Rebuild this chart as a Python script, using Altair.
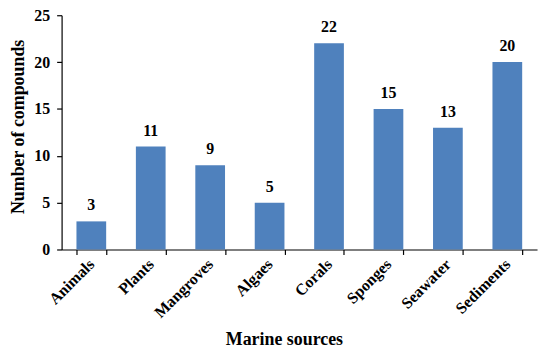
import altair as alt
import pandas as pd

categories = ["Animals", "Plants", "Mangroves", "Algaes", "Corals", "Sponges", "Seawater", "Sediments"]
values = [3, 11, 9, 5, 22, 15, 13, 20]

df = pd.DataFrame({"source": categories, "count": values})

FONT = "Liberation Serif"

x = alt.X(
    "source:N",
    sort=categories,
    scale=alt.Scale(paddingInner=0.5, paddingOuter=0.25),
    axis=alt.Axis(
        title="Marine sources",
        labelAngle=-45,
        labelAlign="right",
        labelBaseline="middle",
        labelPadding=7,
        tickBand="extent",
        tickSize=5,
        titleX=224,
        titleY=96,
        titleAlign="center",
        titleBaseline="alphabetic",
    ),
)
y = alt.Y(
    "count:Q",
    scale=alt.Scale(domain=[0, 25], nice=False),
    axis=alt.Axis(
        title="Number of compounds",
        values=[0, 5, 10, 15, 20, 25],
        grid=False,
        tickSize=5,
        labelPadding=7,
        titleX=-43,
        titleY=112,
        titleAlign="center",
        titleBaseline="middle",
    ),
)

bars = alt.Chart(df).mark_bar(color="#4F81BD").encode(x=x, y=y)
labels = alt.Chart(df).mark_text(
    baseline="bottom", dy=-8, font=FONT, fontWeight="bold", fontSize=16, color="black"
).encode(x=alt.X("source:N", sort=categories), y="count:Q", text="count:Q")

chart = (
    alt.layer(bars, labels)
    .properties(
        width=479,
        height=236,
        autosize=alt.AutoSizeParams(type="none"),
        padding={"left": 54, "top": 6, "right": 5, "bottom": 104},
    )
    .configure_view(stroke=None)
    .configure_axis(
        labelFont=FONT,
        titleFont=FONT,
        labelFontWeight="bold",
        titleFontWeight="bold",
        labelFontSize=16,
        titleFontSize=18,
        labelColor="black",
        titleColor="black",
        domainColor="black",
        tickColor="black",
        domainWidth=1.2,
        tickWidth=1.2,
    )
)

chart.save("out.html", embed_options={"renderer": "svg", "actions": False})
